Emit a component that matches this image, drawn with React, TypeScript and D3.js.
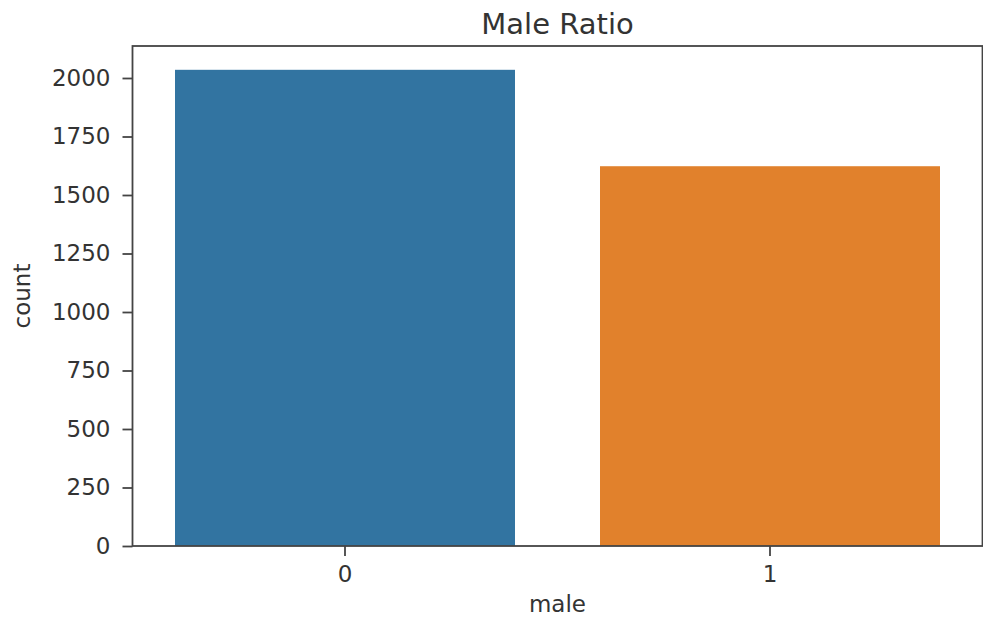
import React, { useEffect, useRef } from 'react';
import * as d3 from 'd3';

const categories = ['0', '1'];
const counts = [2035, 1623];
const barColors = ['#3274a1', '#e1812c'];
const yTicks = [0, 250, 500, 750, 1000, 1250, 1500, 1750, 2000];

const width = 983;
const height = 617;
const margin = { top: 46, right: 0.5, bottom: 71, left: 132.5 };

export default function App() {
  const ref = useRef<SVGSVGElement>(null);

  useEffect(() => {
    document.body.style.margin = '0';
    const svg = d3.select(ref.current);
    svg.selectAll('*').remove();

    const font = 'DejaVu Sans, sans-serif';
    const textColor = '#333';
    const x0 = margin.left;
    const x1 = width - margin.right;
    const y0 = height - margin.bottom;
    const y1 = margin.top;

    const xScale = d3
      .scaleBand()
      .domain(categories)
      .range([x0, x1])
      .paddingInner(0.2)
      .paddingOuter(0.1);
    const yScale = d3
      .scaleLinear()
      .domain([0, d3.max(counts) * 1.05])
      .range([y0, y1]);

    svg
      .selectAll('.bar')
      .data(categories)
      .enter()
      .append('rect')
      .attr('class', 'bar')
      .attr('x', (d) => xScale(d))
      .attr('width', xScale.bandwidth())
      .attr('y', (d, i) => yScale(counts[i]))
      .attr('height', (d, i) => y0 - yScale(counts[i]))
      .attr('fill', (d, i) => barColors[i]);

    const yAxis = svg
      .append('g')
      .attr('transform', `translate(${x0}, 0)`)
      .call(
        d3
          .axisLeft(yScale)
          .tickValues(yTicks)
          .tickFormat(d3.format('d'))
          .tickSize(10)
          .tickPadding(12)
          .tickSizeOuter(0)
      );
    const xAxis = svg
      .append('g')
      .attr('transform', `translate(0, ${y0})`)
      .call(d3.axisBottom(xScale).tickSize(10).tickPadding(10).tickSizeOuter(0));

    [yAxis, xAxis].forEach((g) => {
      g.select('.domain').remove();
      g.selectAll('line').attr('stroke', '#444').attr('stroke-width', 1.8);
      g.selectAll('text')
        .attr('fill', textColor)
        .style('font-family', font)
        .style('font-size', '23px');
    });

    svg
      .append('rect')
      .attr('x', x0)
      .attr('y', y1)
      .attr('width', x1 - x0)
      .attr('height', y0 - y1)
      .attr('fill', 'none')
      .attr('stroke', '#444')
      .attr('stroke-width', 1.8);

    svg
      .append('text')
      .text('Male Ratio')
      .attr('x', (x0 + x1) / 2)
      .attr('y', 34)
      .attr('text-anchor', 'middle')
      .attr('fill', textColor)
      .style('font-family', font)
      .style('font-size', '29px');

    svg
      .append('text')
      .text('male')
      .attr('x', (x0 + x1) / 2)
      .attr('y', 612)
      .attr('text-anchor', 'middle')
      .attr('fill', textColor)
      .style('font-family', font)
      .style('font-size', '23px');

    svg
      .append('text')
      .text('count')
      .attr('transform', `translate(30, ${(y0 + y1) / 2}) rotate(-90)`)
      .attr('text-anchor', 'middle')
      .attr('fill', textColor)
      .style('font-family', font)
      .style('font-size', '23px');
  }, []);

  return <svg ref={ref} width={width} height={height} style={{ display: 'block', background: '#fff' }} />;
}
